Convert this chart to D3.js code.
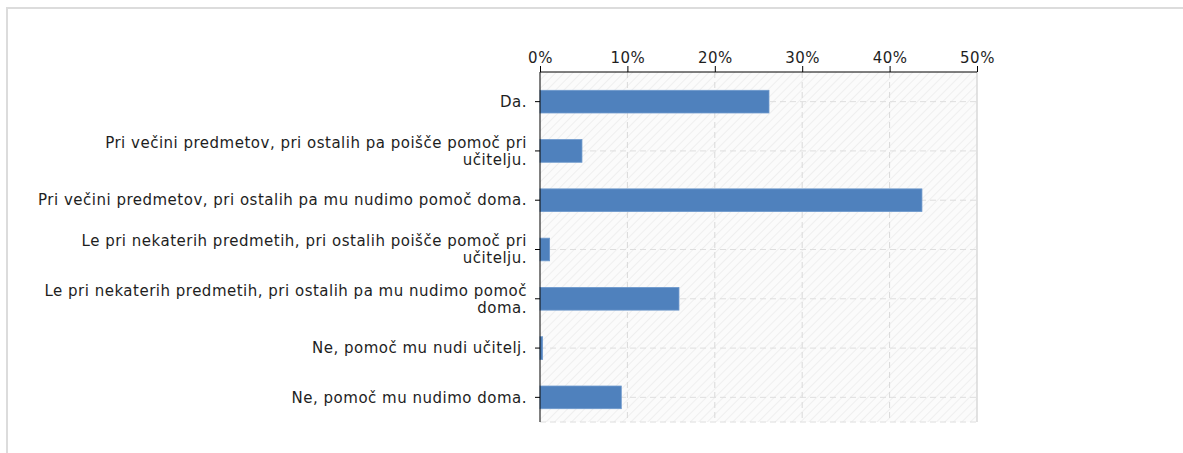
<!DOCTYPE html>
<html>
<head>
<meta charset="utf-8">
<script src="https://cdn.jsdelivr.net/npm/d3@7"></script>
<style>
  body { margin: 0; background: #fff; }
  svg text { font-family: "DejaVu Sans", Verdana, sans-serif; font-size: 15px; letter-spacing: 0.5px; fill: #1e1e1e; }
</style>
</head>
<body>
<div class="chart"></div>
<script>
// chart size, same as the window
var svgWidth = 1183;
var svgHeight = 453;

// categories (top to bottom), "\n" marks where the label wraps
var categories = [
  "Da.",
  "Pri večini predmetov, pri ostalih pa poišče pomoč pri\nučitelju.",
  "Pri večini predmetov, pri ostalih pa mu nudimo pomoč doma.",
  "Le pri nekaterih predmetih, pri ostalih poišče pomoč pri\nučitelju.",
  "Le pri nekaterih predmetih, pri ostalih pa mu nudimo pomoč\ndoma.",
  "Ne, pomoč mu nudi učitelj.",
  "Ne, pomoč mu nudimo doma."
];
// share of answers, in %
var values = [26.2, 4.8, 43.7, 1.1, 15.9, 0.3, 9.3];
// axis ticks
var tickValues = [0, 10, 20, 30, 40, 50];

var plot = {left: 540, right: 977, top: 72, bandTop: 77, bottom: 422};

var svg = d3.select('.chart')
  .append('svg')
  .attr('width', svgWidth)
  .attr('height', svgHeight);

// outer frame
svg.append('rect')
  .attr('x', 7).attr('y', 8)
  .attr('width', svgWidth + 20).attr('height', svgHeight + 20)
  .attr('fill', 'none')
  .attr('stroke', '#dcdcdc')
  .attr('stroke-width', 2);

// hatch pattern for the plot background
var defs = svg.append('defs');
var pat = defs.append('pattern')
  .attr('id', 'hatch')
  .attr('patternUnits', 'userSpaceOnUse')
  .attr('width', 6).attr('height', 6)
  .attr('patternTransform', 'rotate(45)');
pat.append('rect').attr('width', 6).attr('height', 6).attr('fill', '#fbfbfb');
pat.append('line')
  .attr('x1', 0).attr('y1', 0).attr('x2', 0).attr('y2', 6)
  .attr('stroke', '#ececec').attr('stroke-width', 1.5);

// scales
var x = d3.scaleLinear().domain([0, 50]).range([plot.left, plot.right]);
var y = d3.scaleBand().domain(categories).range([plot.bandTop, plot.bottom]).paddingInner(0.54).paddingOuter(0.27);
var yc = function(d) { return y(d) + y.bandwidth() / 2; };

svg.append('rect')
  .attr('x', x(0)).attr('y', plot.top)
  .attr('width', x(50) - x(0)).attr('height', plot.bottom - plot.top)
  .attr('fill', 'url(#hatch)');

// grid lines
svg.append('g').selectAll('line.vg')
  .data(tickValues.slice(1))
  .enter().append('line')
  .attr('x1', function(d) { return x(d); }).attr('x2', function(d) { return x(d); })
  .attr('y1', plot.top).attr('y2', plot.bottom)
  .attr('stroke', '#d9d9d9')
  .attr('stroke-dasharray', function(d) { return d === 50 ? null : '6,4'; })
  .attr('stroke-width', function(d) { return d === 50 ? 1.5 : 1; });

svg.append('g').selectAll('line.hg')
  .data(categories)
  .enter().append('line')
  .attr('x1', plot.left).attr('x2', plot.right)
  .attr('y1', yc).attr('y2', yc)
  .attr('stroke', '#dedede')
  .attr('stroke-dasharray', '6,4');

svg.append('line')
  .attr('x1', plot.left).attr('x2', plot.right)
  .attr('y1', plot.bottom).attr('y2', plot.bottom)
  .attr('stroke', '#dedede')
  .attr('stroke-dasharray', '6,4');

// bars
svg.append('g').selectAll('rect')
  .data(values)
  .enter().append('rect')
  .attr('x', x(0))
  .attr('y', function(d, i) { return y(categories[i]); })
  .attr('width', function(d) { return x(d) - x(0); })
  .attr('height', y.bandwidth())
  .attr('fill', '#4f81bd')
  .attr('stroke', '#6d98cc')
  .attr('stroke-width', 0.8);

// top axis
var topAxis = d3.axisTop(x)
  .tickValues(tickValues)
  .tickFormat(function(d) { return d + '%'; })
  .tickSize(6)
  .tickPadding(3);
var gx = svg.append('g')
  .attr('transform', 'translate(0,' + plot.top + ')')
  .call(topAxis);
gx.select('.domain').attr('stroke', '#000').attr('d', 'M' + plot.left + ',0H' + plot.right);
gx.selectAll('.tick line').attr('stroke', '#000');
gx.selectAll('.tick text')
  .style('font-family', '"DejaVu Sans", Verdana, sans-serif')
  .style('font-size', '15px')
  .style('letter-spacing', '0.5px')
  .attr('fill', '#1e1e1e');

// left axis
var leftAxis = d3.axisLeft(y).tickSize(5).tickPadding(8).tickFormat('');
var gy = svg.append('g')
  .attr('transform', 'translate(' + plot.left + ',0)')
  .call(leftAxis);
gy.select('.domain').attr('stroke', '#000').attr('d', 'M0,' + plot.top + 'V' + plot.bottom);
gy.selectAll('.tick line').attr('stroke', '#000');

// wrapped category labels
var lineH = 17;
svg.append('g').selectAll('text')
  .data(categories)
  .enter().append('text')
  .attr('text-anchor', 'end')
  .each(function(d) {
    var lines = d.split('\n');
    var t = d3.select(this);
    var y0 = yc(d) - (lines.length - 1) * lineH / 2;
    lines.forEach(function(s, k) {
      t.append('tspan')
        .attr('x', plot.left - 13)
        .attr('y', y0 + k * lineH)
        .attr('dy', '0.35em')
        .text(s);
    });
  });
</script>
</body>
</html>
